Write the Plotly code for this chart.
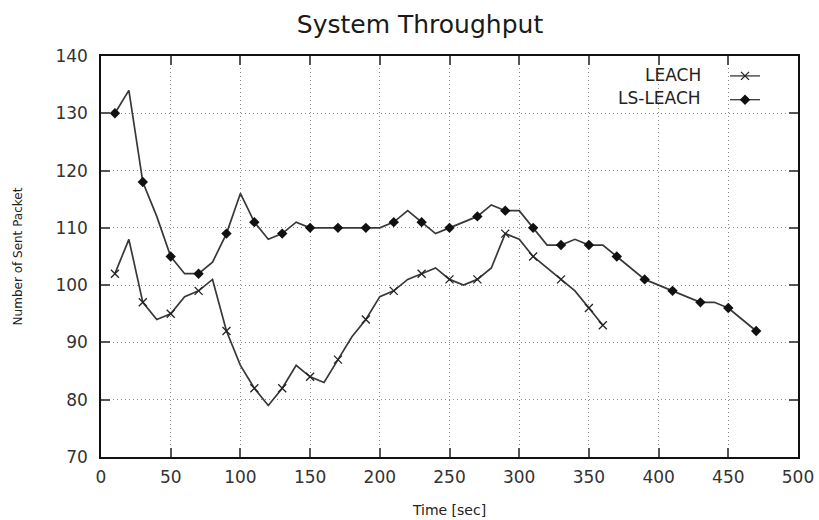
import plotly.graph_objects as go

# ---- data ----
time_leach = [10, 20, 30, 40, 50, 60, 70, 80, 90, 100, 110, 120, 130, 140, 150, 160, 170, 180,
              190, 200, 210, 220, 230, 240, 250, 260, 270, 280, 290, 300, 310, 320, 330, 340, 350, 360]
leach = [102, 108, 97, 94, 95, 98, 99, 101, 92, 86, 82, 79, 82, 86, 84, 83, 87, 91,
         94, 98, 99, 101, 102, 103, 101, 100, 101, 103, 109, 108, 105, 103, 101, 99, 96, 93]

time_ls = [10, 20, 30, 40, 50, 60, 70, 80, 90, 100, 110, 120, 130, 140, 150, 160, 170, 180,
           190, 200, 210, 220, 230, 240, 250, 260, 270, 280, 290, 300, 310, 320, 330, 340,
           350, 360, 370, 380, 390, 400, 410, 420, 430, 440, 450, 460, 470]
ls_leach = [130, 134, 118, 112, 105, 102, 102, 104, 109, 116, 111, 108, 109, 111, 110, 110, 110, 110,
            110, 110, 111, 113, 111, 109, 110, 111, 112, 114, 113, 113, 110, 107, 107, 108,
            107, 107, 105, 103, 101, 100, 99, 98, 97, 97, 96, 94, 92]

series_names = ["LEACH", "LS-LEACH"]
x_ticks = [0, 50, 100, 150, 200, 250, 300, 350, 400, 450, 500]
y_ticks = [70, 80, 90, 100, 110, 120, 130, 140]

# marked points (every other sample, plus the last LEACH sample)
lx = [t for i, t in enumerate(time_leach) if i % 2 == 0 or i == len(time_leach) - 1]
ly = [v for i, v in enumerate(leach) if i % 2 == 0 or i == len(leach) - 1]
sx = [t for i, t in enumerate(time_ls) if i % 2 == 0]
sy = [v for i, v in enumerate(ls_leach) if i % 2 == 0]

LINE_C = "#383838"
FONT = "DejaVu Sans"
cross = dict(symbol="x-thin", size=8, color="#222", line=dict(width=1.3, color="#222"))
diamond = dict(symbol="diamond", size=8, color="#111")

fig = go.Figure()
fig.add_trace(go.Scatter(x=time_leach, y=leach, mode="lines",
                         line=dict(color=LINE_C, width=1.7), showlegend=False))
fig.add_trace(go.Scatter(x=lx, y=ly, mode="markers", marker=cross, showlegend=False))
fig.add_trace(go.Scatter(x=time_ls, y=ls_leach, mode="lines",
                         line=dict(color=LINE_C, width=1.7), showlegend=False))
fig.add_trace(go.Scatter(x=sx, y=sy, mode="markers", marker=diamond, showlegend=False))
# legend samples (no data)
fig.add_trace(go.Scatter(x=[None], y=[None], mode="lines+markers", name=" ",
                         line=dict(color=LINE_C, width=1.3), marker=cross))
fig.add_trace(go.Scatter(x=[None], y=[None], mode="lines+markers", name="  ",
                         line=dict(color=LINE_C, width=1.3), marker=diamond))

axis_common = dict(
    showline=True, linecolor="#111", linewidth=1.5, mirror="ticks",
    ticks="inside", ticklen=9, tickcolor="#555", tickwidth=1.5,
    showgrid=True, gridcolor="#8a8a8a", griddash="1px,3px", gridwidth=1,
    zeroline=False, tickfont=dict(family=FONT, size=17, color="#333"),
    automargin=False,
)

fig.update_layout(
    width=819, height=520,
    margin=dict(l=101, r=21, t=56, b=63),
    paper_bgcolor="white", plot_bgcolor="white",
    title=dict(text="System Throughput", x=420 / 819, xref="container", xanchor="center",
               y=1 - 15 / 520, yref="container", yanchor="top",
               font=dict(family=FONT, size=25, color="#1a1a1a")),
    xaxis=dict(range=[0, 500], tickvals=x_ticks, ticklabelstandoff=4,
               title=dict(text="Time [sec]", font=dict(family=FONT, size=14, color="#222"), standoff=19),
               **axis_common),
    yaxis=dict(range=[70, 140], tickvals=y_ticks, ticklabelstandoff=8,
               title=dict(text="Number of Sent Packet", font=dict(family=FONT, size=12, color="#222"),
                          standoff=30),
               **axis_common),
    legend=dict(x=0.8953, y=0.9925, xanchor="left", yanchor="top", bgcolor="rgba(0,0,0,0)",
                font=dict(family=FONT, size=16), itemwidth=30, tracegroupgap=0),
    annotations=[
        dict(text=series_names[0], x=0.8637, y=0.9526, xref="paper", yref="paper",
             xanchor="right", yanchor="middle", showarrow=False,
             font=dict(family=FONT, size=17, color="#222")),
        dict(text=series_names[1], x=0.8637, y=0.895, xref="paper", yref="paper",
             xanchor="right", yanchor="middle", showarrow=False,
             font=dict(family=FONT, size=17, color="#222")),
    ],
)

fig.write_html("out.html", config={"displayModeBar": False},
               post_script="document.body.style.margin='0';")
